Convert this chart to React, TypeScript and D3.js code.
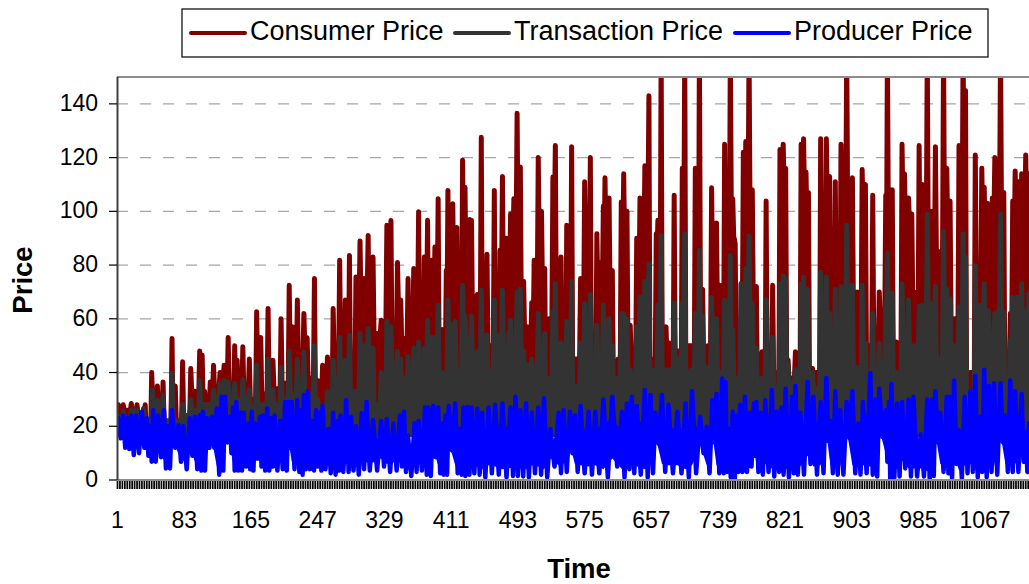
import React from "react";
import * as d3 from "d3";

// rows: [time, peak, notch level after the peak]
const consumerSpikes: number[][] = [
[2,28,25],[8,28,26],[18,28.5,25],[25,28,24],[35,28,18],[43,40,30],[50,35,26],[57,36.5,22],[68,52.7,22],[72,35,22],[81,44,24],[91,41.5,33],[96,33,32],[102,48,30],[105,46.5,30],[108,33,28],[115,36.5,32],[119,42.7,34],[127,40,37],[132,42.7,35],[137,53,32],[145,50,35],[148,44.6,32],[155,49.6,33],[163,45,30],[172,62.6,40],[177,53,32],[186,63.8,37],[192,44.6,34],[202,60,36],[212,72.5,44],[216,57,40],[222,67,44],[230,62,50],[234,53,38],[243,75,30],[247,37,30],[253,42.7,35],[259,45.8,30],[266,63.8,45],[274,81.8,45],[281,67,42],[286,83.6,38],[294,75.6,62],[299,89,65],[304,75,70],[309,91,55],[315,83,54],[320,54.5,54],[325,59.5,58],[332,94.8,75],[337,96.6,50],[345,81,65],[349,67,52],[353,52.7,50],[358,75,52],[365,78.7,62],[371,99.8,45],
[378,83,60],[382,96.7,50],[387,81.8,62],[391,86.7,65],[395,104.7,42],[400,56,40],[405,78,65],[407,107.8,70],[413,102.8,60],[418,94,55],[423,78,60],[425,119,85],[428,109,75],[434,97,72],[436,96.7,58],[443,69,58],[448,127.6,50],[455,84,50],[464,107.8,45],[471,85.5,70],[474,113,65],[479,90,75],[484,99,85],[488,104.7,90],[492,136.5,90],[496,116.5,60],[500,74,55],[505,57,50],[510,66,55],[513,81.8,70],[518,120,85],[522,100,70],[526,78.7,25],[530,22,60],[536,112.8,95],[539,124.5,60],[546,83,40],[553,94.8,50],[559,124,45],[570,75,60],[575,111,85],[578,100,70],[582,120,40],[590,91.7,70],[595,81,70],[598,102,85],[600,112.5,90],[605,105,70],[609,78,40],[615,27,45],[620,103.5,85],[623,114,85],[627,100,50],[631,57.6,45],[639,90,70],[643,105,85],[649,117,100],[654,143,40],[659,45,45],[663,91.7,85],[665,96.7,65],[669,160,55],[675,57,45],[679,51,40],[685,106,45],[690,48,44],[695,116,85],[698,160,50],[706,50,48],[711,116,60],[716,160,70],[720,71,42],[725,47.7,50],[731,108.8,75],[737,95.7,60],[741,72.5,50],
[747,125,75],[754,160,100],[757,104.7,90],[760,88,40],[766,45,60],[770,122,100],[773,126,100],[777,160,100],[781,108,65],[786,72,35],[793,47.7,35],[798,103.8,40],[806,72.5,40],[815,123,110],[819,125,105],[822,116,45],[825,44.6,36],[830,38,38],[834,47.7,40],[841,125,105],[844,127,105],[847,114.6,95],[850,107,40],[855,41.5,35],[858,36.6,40],[865,127,70],[872,127,100],[876,113,60],[883,111,55],[890,125,95],[897,160,100],[904,112.5,65],[910,70,60],[916,115.6,95],[920,110,50],[929,106,50],[937,70,60],[945,106,85],[947,160,95],[953,108,45],[958,51.4,50],[965,125,100],[968,114,95],[973,105,95],[977,99,65],[980,70,60],[986,124.5,75],[990,110,90],[996,160,85],[1001,100,80],[1006,124,85],[1016,160,90],[1020,116,90],[1024,103.8,60],[1029,50,60],[1035,124.5,90],[1040,160,110],[1043,145,40],[1048,38,40],[1055,121,70],[1063,116,95],[1066,109,85],[1070,103,85],[1076,105,95],[1079,120,100],[1086,160,100],[1090,107,40],[1093,41.5,40],[1098,62,55],[1101,103.8,85],[1104,115,95],[1108,111,95],[1112,114,100],[1117,121,100],[1121,114,100],
];

const transactionSpikes: number[][] = [
[2,23.5,22],[8,25.5,23],[18,26,24],[24,26,23],[33,26.6,20],[44,33.5,24],[50,29.7,24],[57,31.6,22],[68,39.7,22],[81,28,24],[91,30,26],[102,37,28],[119,33.5,30],[127,36,32],[132,37,33],[137,36.5,30],[145,36,30],[155,37.4,29],[163,33.5,27],[172,42.7,28],[186,45,30],[192,33.5,28],[202,42,30],[212,48,32],[222,45,34],[230,47.7,32],[243,50,28],[247,30,26],[259,33,24],[266,44.6,34],[274,53,37],[281,44.6,35],[286,54,33],[294,33,33],[299,54.5,42],[304,50,38],[309,56.4,40],[315,49,28],[325,40,30],[332,59,38],[337,57,40],[345,48,36],[349,45,32],[353,38,32],[358,46,30],[365,49,35],[371,51.4,35],
[378,49,38],[382,59.5,38],[387,53,40],[391,53,42],[395,65,38],[400,40,36],[407,67,44],[413,58,46],[416,59,40],[425,72.5,52],[428,61,50],[436,61,42],[443,47.7,42],[448,70.6,42],[455,54,40],[464,67,40],[471,54,46],[474,70.6,46],[482,55,50],[484,59.5,48],[492,70,55],[496,71,42],[500,48,40],[505,43,40],[510,45,40],[518,62,48],[526,54.5,20],[530,21,38],[536,62.6,50],[539,73,44],[546,51,40],[553,59,42],[559,74,35],[564,35,34],[570,51,42],[575,65.7,45],[582,69,40],[590,57.6,44],[598,65,48],[605,60,45],[609,50,35],[614,35,38],[620,62,50],[623,62,52],[627,60,40],[631,41,38],[639,57,44],[643,68,52],[649,74,56],[654,80.5,36],[658,41,38],[665,65,50],[669,91,38],[674,41,38],[679,41,38],[685,66,40],[690,45,42],[695,66,60],[698,91.7,40],[706,41,38],[711,62,45],[716,85.5,45],[720,61,40],[725,42,40],[731,68,52],[737,60,40],
[747,67,50],[754,83.6,45],[757,56,38],[763,37,36],[767,73,50],[773,78.7,55],[777,90.8,60],[781,65.7,45],[786,49,30],[793,38,34],[798,67,36],[806,53,35],[815,73,55],[819,76,55],[822,75,38],[825,43,36],[834,41,32],[841,73,56],[844,75.6,56],[849,71,38],[855,40,34],[865,77.4,50],[872,75.6,45],[876,62,40],[883,71,40],[890,72,52],[897,94.8,52],[904,72.5,42],[911,41,38],[916,72.5,50],[920,51,38],[929,62,38],[937,51,40],[945,66,55],[947,84.5,52],[953,69.4,36],[958,40,36],[965,73,52],[973,67,46],[980,50,42],[986,64.7,55],[990,65,55],[996,99,55],[1001,65.7,55],[1006,72,45],[1016,92.6,55],[1020,71,50],[1024,67.5,40],[1029,50,45],[1035,64.4,50],[1040,91.7,65],[1043,83,28],[1048,29,30],[1055,79.7,55],[1060,65,55],[1066,73,52],[1071,63,52],[1079,62,52],[1083,63,55],[1086,99,50],[1090,62.6,28],[1093,34,36],[1098,52,52],[1101,68,55],[1107,68,60],[1112,73,50],[1117,63,50],[1121,69.4,55],
];

// rows: [time, top of the swing, bottom of the swing]
const producerSwings: number[][] = [
[2,23,15.5],[8,24,12],[13,23,11.5],[18,24,9.3],[24,24,10],[31,25.4,12],[37,23,9],[41,20,6.8],[45,26,6.8],[51,24,8.5],[58,26,4.3],[63,20,4.3],[68,26,12],[76,20.4,6.8],[82,20,4],[90,23,9],[96,23.5,4],[102,24,3.5],[106,25.4,3.5],[111,23,12],[117,23.5,12],[123,26.6,2],[129,31,3.5],[133,31,14],[139,23.5,10],[143,27,3.5],[147,29,3.5],[152,25,3.5],[156,25,5],[162,21,4],[166,25.4,3.5],[170,21,8],[176,23.5,5],[180,24,3.5],[185,26.6,3.5],[190,23,5],[194,24,3.5],[201,22,4],[207,29,3.5],[211,29,12],[215,29,4],[222,29.7,3],[227,26,2],[230,31.6,4],[235,33,4],[240,22,3.5],[245,26,5],[250,25,3.5],[253,27.5,4],[260,19,2.5],[266,25,2],[272,22,3.5],[275,24,3],[282,29.7,3],[288,23.5,3.5],[294,20,2],[301,24.8,4],[307,29,3.5],[315,22.3,3.5],[325,22,5],[332,22.7,3],[340,21,3.5],[348,24,5],[353,25.4,3],[358,16.5,1.5],[366,21,3],
[371,22,3.5],[379,27,2],[383,27,1.5],[389,27.5,8.5],[395,27,2.5],[400,21,2],[404,24,2],[408,27.5,11],[416,28.5,2.5],[422,19,2],[426,27,1.5],[431,27.2,2],[436,27,2.5],[443,26.5,2],[449,25,1],[457,27,2.5],[465,28,2],[474,28.5,1],[484,27,1.5],[490,31,1.5],[496,26,1.3],[503,28.5,1],[510,25,2.5],[518,27,2],[525,30.4,1],[533,19,5],[543,25,2.5],[549,26,3],[557,25.4,10],[563,24,3],[570,27.5,2.5],[580,25.4,2],[588,25.4,2.5],[598,30,1],[609,31,5],[621,25.4,1],[627,28.5,4],[633,31,2.5],[639,27.5,2],[649,33.5,1],[656,31.6,2.5],[662,25,13.5],[670,31.6,3],[678,28,2.5],[689,25.4,2.5],[699,28.5,1],[707,33,2.5],[717,23.5,10],[725,19.8,2.5],[732,29.7,14],[737,32,2.5],
[744,37.8,2.5],[748,36.5,3],[752,19,1],[757,25.4,0.3],[762,24,3],[766,28,3],[772,31,3],[777,25,5],[783,28.5,9],[786,29,3],[791,25,2],[797,29.7,3],[805,33.5,1.3],[811,25.4,3],[817,27,2],[822,34,1],[830,31,2.5],[834,35,2],[840,25,2],[849,36.5,6],[856,31,2],[865,29,2.5],[872,38,14.5],[877,22,2.5],[883,33,2],[889,26,2],[897,29,15.5],[904,33,2.5],[911,21,2],[917,29,2.5],[926,39.7,2],[932,30,1.3],[937,34,16],[945,26,6.8],[949,29,0.5],[952,35.7,0.6],[959,28.5,1.3],[965,29,4.3],[973,30,1.3],[979,31,1.3],[988,17,1.3],[996,30,0.3],[1002,30,1.5],[1006,33,14],[1012,25,3],[1020,31,2.5],[1024,31,0.6],[1029,37,6],[1035,18.5,0.6],[1042,31,2.5],[1049,33,3],[1055,38.7,1],[1061,23.5,3],[1066,41,1],[1072,35,3],[1078,36,2],[1086,36,14],[1092,24,3],[1098,37,3],[1104,33,3],[1112,32,6.8],[1117,18,3],[1121,21,3],
];

const yTicks = [0, 20, 40, 60, 80, 100, 120, 140];
const xLabels = [1, 83, 165, 247, 329, 411, 493, 575, 657, 739, 821, 903, 985, 1067];
const legendItems = [
  { name: "Consumer Price", color: "#800000", x: 191 },
  { name: "Transaction Price", color: "#333333", x: 455 },
  { name: "Producer Price", color: "#0000ff", x: 735 },
];

const font = "'Liberation Sans', Arial, sans-serif";
const x = d3.scaleLinear().domain([1, 1121]).range([117.5, 1029]);
const y = d3.scaleLinear().domain([0, 150]).range([480, 77]);
const line = d3.line<number[]>().x((d) => x(d[0])).y((d) => y(d[1]));

function spikePoints(rows: number[][]) {
  const pts: number[][] = [];
  rows.forEach((r, i) => {
    pts.push([r[0], r[1]]);
    const next = rows[i + 1];
    if (next) {
      if (next[0] - r[0] > 2.4) {
        pts.push([r[0] + 1.2, r[2]], [next[0] - 1.2, r[2]]);
      } else {
        pts.push([(r[0] + next[0]) / 2, r[2]]);
      }
    }
  });
  return pts;
}

// solid mass under a spike outline, resting on the producer band
const under = d3.area<number[]>().x((d) => x(d[0])).y0(y(16)).y1((d) => y(d[1]));

// solid core of the producer swings: from just above the swing bottom to the top notch
const core = d3.area<number[]>()
  .x((d) => x(d[0]))
  .y0((d) => y(d[2] + 3))
  .y1((d) => y(d[1] * 0.72));

function swingPath(rows: number[][]) {
  const pts: number[][] = [];
  rows.forEach((r, i) => {
    pts.push([r[0], r[1]]);
    const next = rows[i + 1];
    if (next) pts.push([(r[0] + next[0]) / 2, r[2]]);
  });
  return line(pts) || "";
}

const minorTicks = d3.range(1, 1122, 3);

export default function App() {
  const cp = spikePoints(consumerSpikes);
  const tp = spikePoints(transactionSpikes);
  return (
    <svg width={1029} height={584} style={{ position: "absolute", left: 0, top: 0, background: "#fff" }} fontFamily={font}>
      <defs>
        <clipPath id="plot">
          <rect x={117} y={77} width={912} height={405} />
        </clipPath>
      </defs>
      {yTicks.filter((t) => t > 0).map((t) => (
        <line key={t} x1={117} x2={1029} y1={y(t)} y2={y(t)} stroke="#a6a6a6" strokeWidth={1.2} strokeDasharray="11 12" />
      ))}
      <g clipPath="url(#plot)" strokeLinejoin="round" strokeLinecap="round" strokeWidth={5}>
        <path d={under(cp) || ""} fill="#800000" stroke="none" />
        <path d={line(cp) || ""} stroke="#800000" fill="none" />
        <path d={under(tp) || ""} fill="#333333" stroke="none" />
        <path d={line(tp) || ""} stroke="#333333" fill="none" />
        <path d={core(producerSwings) || ""} fill="#0000ff" stroke="none" />
        <path d={swingPath(producerSwings)} stroke="#0000ff" fill="none" strokeWidth={4.5} />
      </g>
      <line x1={117} x2={1029} y1={77} y2={77} stroke="#8c8c8c" strokeWidth={2} />
      <line x1={117} x2={1029} y1={480} y2={480} stroke="#8c8c8c" strokeWidth={2} />
      <line x1={117.5} x2={117.5} y1={77} y2={480} stroke="#404040" strokeWidth={2} />
      {yTicks.map((t) => (
        <g key={t}>
          <line x1={109} x2={117} y1={y(t)} y2={y(t)} stroke="#000" strokeWidth={1.2} />
          <text x={98} y={y(t) + 7} textAnchor="end" fontSize={23} fill="#000">{t}</text>
        </g>
      ))}
      {minorTicks.map((t) => (
        <line key={t} x1={x(t)} x2={x(t)} y1={481} y2={489} stroke="#000" strokeWidth={1.7} />
      ))}
      {xLabels.map((t) => (
        <text key={t} x={x(t)} y={528} textAnchor="middle" fontSize={23} fill="#000">{t}</text>
      ))}
      <text x={579} y={578} textAnchor="middle" fontSize={27.5} fontWeight="bold" fill="#000">Time</text>
      <text transform={`translate(32,280) rotate(-90)`} textAnchor="middle" fontSize={27.5} fontWeight="bold" fill="#000">Price</text>
      <rect x={182} y={9} width={806} height={48} fill="#fff" stroke="#000" strokeWidth={1.2} />
      {legendItems.map((d) => (
        <g key={d.name}>
          <line x1={d.x} x2={d.x + 54} y1={33} y2={33} stroke={d.color} strokeWidth={4} strokeLinecap="round" />
          <text x={d.x + 59} y={40} fontSize={27} fill="#000">{d.name}</text>
        </g>
      ))}
    </svg>
  );
}
